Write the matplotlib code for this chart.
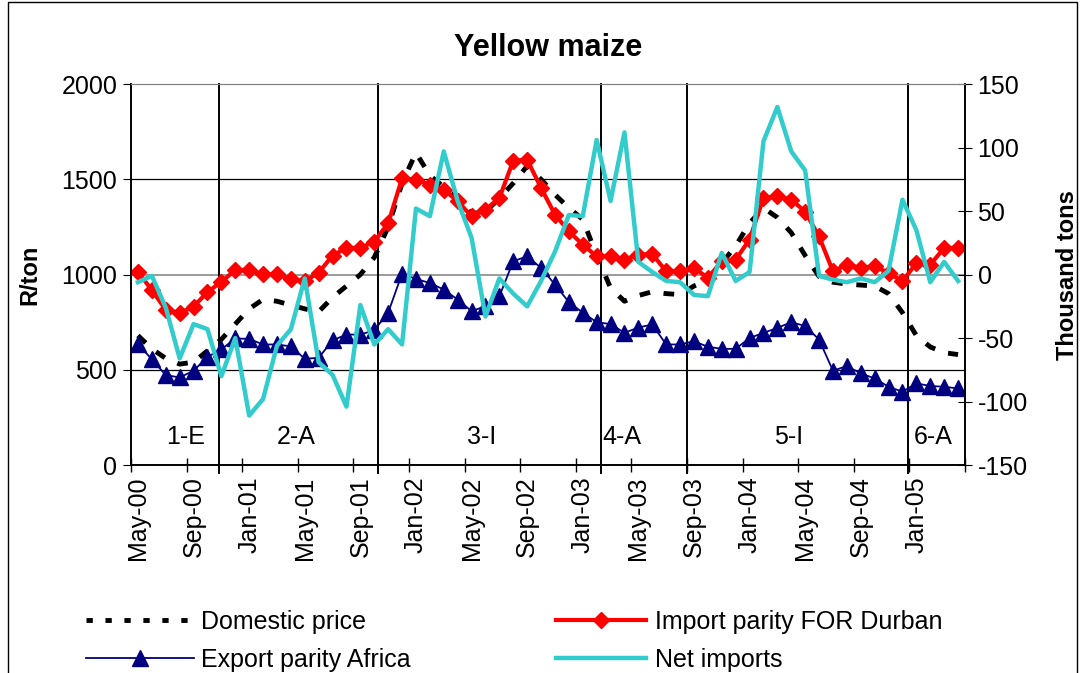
import numpy as np
import pandas as pd
import matplotlib
matplotlib.use('Agg')
import matplotlib.pyplot as plt
from matplotlib.lines import Line2D
from matplotlib.patches import Rectangle

plt.rcParams['font.family'] = ['Liberation Sans', 'DejaVu Sans']
plt.rcParams['axes.unicode_minus'] = False

months = pd.date_range('2000-05-01', periods=60, freq='MS')
month_labels = [m.strftime('%b-%y') for m in months]

# R/ton
domestic = [680, 610, 560, 530, 540, 600, 660, 740, 820, 870, 860, 840, 820, 805, 880, 940,
            1000, 1090, 1250, 1480, 1640, 1520, 1460, 1400, 1320, 1330, 1400, 1480, 1570, 1500,
            1420, 1350, 1290, 1100, 930, 860, 890, 910, 900, 895, 940, 970, 1060, 1150, 1270,
            1350, 1300, 1220, 1100, 990, 960, 950, 945, 940, 900, 800, 680, 620, 590, 580]
import_parity = [1015, 918, 815, 798, 832, 908, 962, 1024, 1024, 1002, 1002, 975, 965, 1010,
                 1100, 1140, 1140, 1173, 1270, 1505, 1498, 1472, 1446, 1385, 1306, 1341, 1402,
                 1598, 1603, 1455, 1315, 1227, 1157, 1096, 1096, 1079, 1105, 1108, 1017, 1017,
                 1035, 983, 1070, 1079, 1184, 1402, 1411, 1394, 1330, 1200, 1017, 1052, 1035,
                 1044, 1009, 965, 1061, 1052, 1140, 1140]
export_parity = [635, 555, 472, 460, 495, 568, 607, 665, 662, 633, 633, 623, 558, 563, 655, 685,
                 685, 708, 800, 1005, 977, 956, 921, 869, 808, 834, 886, 1070, 1096, 1035, 948,
                 855, 800, 750, 740, 694, 722, 738, 633, 633, 650, 621, 610, 610, 667, 694, 720,
                 750, 730, 659, 495, 520, 481, 455, 411, 385, 429, 415, 411, 402]
# thousand tons
net_imports = [-6, -1, -26, -66, -39, -43, -80, -50, -111, -98, -56, -43, -3, -69, -79, -104,
               -24, -55, -43, -55, 52, 46, 97, 58, 29, -33, -3, -15, -25, -5, 18, 47, 46, 106,
               58, 112, 10, 2, -5, -6, -16, -17, 17, -5, 2, 105, 132, 97, 82, -1, -4, -6, -3,
               -6, 3, 59, 35, -6, 10, -5]

regime_bounds = [5.8, 17.3, 33.3, 39.5, 55.4]
regime_names = ['1-E', '2-A', '3-I', '4-A', '5-I', '6-A']
regime_centres = [3.4, 11.4, 24.7, 34.8, 46.8, 57.2]

fs = 18
x = np.arange(len(months))

fig = plt.figure(figsize=(10.81, 6.73), dpi=100)
ax = fig.add_axes([0.1212, 0.309, 0.7715, 0.566])
ax2 = ax.twinx()

ax.plot(x, domestic, color='black', lw=3.5, linestyle=(0, (2.2, 2.8)), zorder=2)
ax.plot(x, export_parity, color='#000080', lw=1.3, marker='^', ms=11, zorder=3)
ax.plot(x, import_parity, color='#ff0000', lw=3, marker='D', ms=8.5, zorder=4)
ax2.plot(x, net_imports, color='#33cccc', lw=3.2, zorder=5)

ax.set_xlim(-0.5, 59.5)
ax.set_ylim(0, 2000)
ax2.set_ylim(-150, 150)
ax.set_yticks([0, 500, 1000, 1500, 2000])
ax2.set_yticks(np.arange(-150, 151, 50))

ax.axhline(500, color='black', lw=0.9, zorder=1)
ax.axhline(1500, color='black', lw=0.9, zorder=1)
ax.axhline(1000, color='#808080', lw=1.1, zorder=1)

for b in regime_bounds:
    ax.axvline(b, ymin=-0.02, ymax=1, color='black', lw=1.4, clip_on=False, zorder=1)
for name, c in zip(regime_names, regime_centres):
    ax.text(c, 147, name, ha='center', va='center', fontsize=fs)

ax.set_xticks(np.arange(-0.5, 60, 4))
ax.set_xticklabels([])
ax.set_xticks(x[::4], minor=True)
ax.set_xticklabels(month_labels[::4], minor=True, rotation=90, fontsize=fs)
ax.tick_params(axis='x', which='major', direction='inout', length=10, width=1)
ax.tick_params(axis='x', which='minor', length=0, pad=8)
ax.tick_params(axis='y', direction='out', length=6, labelsize=fs, pad=4)
ax2.tick_params(axis='y', direction='inout', length=10, labelsize=fs, pad=4)

ax.set_ylabel('R/ton', fontsize=17, fontweight='bold', labelpad=14)
ax2.set_ylabel('Thousand tons', fontsize=17, fontweight='bold', labelpad=20)
fig.text(0.507, 0.928, 'Yellow maize', ha='center', va='center', fontsize=22, fontweight='bold')

for a in (ax, ax2):
    a.spines['top'].set_color('#808080')
    for s in ('left', 'right', 'bottom'):
        a.spines[s].set_linewidth(1.2)

h1 = [Line2D([], [], color='black', lw=3.5, linestyle=(0, (1.3, 2.6))),
      Line2D([], [], color='#000080', lw=1.3, marker='^', ms=11)]
h2 = [Line2D([], [], color='#ff0000', lw=3, marker='D', ms=8.5),
      Line2D([], [], color='#33cccc', lw=3.2)]
fig.legend(h1, ['Domestic price', 'Export parity Africa'], loc='upper left',
           bbox_to_anchor=(0.068, 0.112), frameon=False, fontsize=fs, borderpad=0,
           handlelength=4.3, handletextpad=0.3, labelspacing=0.55)
fig.legend(h2, ['Import parity FOR Durban', 'Net imports'], loc='upper left',
           bbox_to_anchor=(0.503, 0.112), frameon=False, fontsize=fs, borderpad=0,
           handlelength=3.6, handletextpad=0.35, labelspacing=0.55)

fig.add_artist(Rectangle((0.0074, -0.02), 0.989, 1.017, transform=fig.transFigure,
                         fill=False, edgecolor='black', lw=1))

fig.savefig('out.png', dpi=100)
